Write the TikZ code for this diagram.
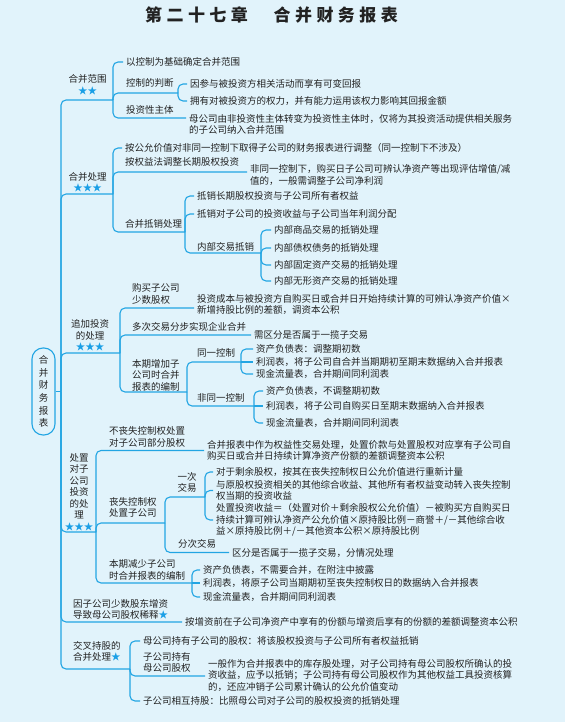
\documentclass[tikz,border=0pt]{standalone}
\usepackage{fontspec}
\setmainfont{Noto Sans CJK SC}
\newfontfamily\titlefont{Noto Sans CJK SC}[LetterSpace=26]
\usepackage{tikz}
\usepackage{xcolor}
\definecolor{bgblue}{HTML}{E1F3FB}
\definecolor{lineblue}{HTML}{22A5E3}
\definecolor{starblue}{HTML}{1A9FE6}
\definecolor{ink}{HTML}{222222}
\tikzstyle{branch} = [draw=lineblue, line width=1.1pt, rounded corners=5pt]
\tikzstyle{topic} = [align=center, inner sep=0pt]
\tikzstyle{sub} = [anchor=west, align=left, inner sep=0pt]
\tikzstyle{leaf} = [anchor=west, align=left, inner xsep=3pt, inner ysep=0pt]
\newcommand{\starmark}[1]{\textcolor{starblue}{#1}}

\begin{document}
\begin{tikzpicture}[x=1pt, y=-1pt, font=\fontsize{9.5}{11.5}\selectfont, text=ink]

\fill[bgblue] (0,0) rectangle (565,722);
\useasboundingbox (0,0) rectangle (565,722);

\node (title) at (271.5,15) {\titlefont\fontsize{17}{20}\selectfont\bfseries 第二十七章　合并财务报表};

\node (root) [draw=lineblue, line width=1.1pt, rounded corners=11pt, minimum width=23pt, minimum height=87pt, align=center, font=\fontsize{9.5}{12.6}\selectfont] at (43.5,391.5) {合\\并\\财\\务\\报\\表};
\coordinate (tr) at (61,391.5);

% level one
\node (scope)   [topic] at (87.5,85) {合并范围\\\starmark{★★}};
\node (process) [topic] at (87.5,182.5) {合并处理\\\starmark{★★★}};
\node (addinv)  [topic] at (90,335.5) {追加投资\\的处理\\\starmark{★★★}};
\node (dispose) [topic] at (79,492) {处置\\对子\\公司\\投资\\的处\\理\\\starmark{★★★}};
\node (dilute)  [sub] at (73,609.5) {因子公司少数股东增资\\导致母公司股权稀释\starmark{★}};
\node (cross)   [sub] at (73,651.5) {交叉持股的\\合并处理\starmark{★}};

\coordinate (scopej) at (113,100);
\coordinate (procj) at (113,194);
\coordinate (addj) at (120,353);
\coordinate (dispj) at (96,532);
\coordinate (crossj) at (130,669);

% scope
\node (basis)    [leaf] at (123,62) {以控制为基础确定合并范围};
\node (judge)    [sub] at (126,83) {控制的判断};
\coordinate (judgej) at (178,93);
\node (vreturn)  [leaf] at (187,84) {因参与被投资方相关活动而享有可变回报};
\node (power)    [leaf] at (187,101) {拥有对被投资方的权力，并有能力运用该权力影响其回报金额};
\node (ientity)  [sub] at (126,110) {投资性主体};
\node (ientnote) [leaf] at (186,124.5) {母公司由非投资性主体转变为投资性主体时，仅将为其投资活动提供相关服务\\的子公司纳入合并范围};

% process
\node (fairadj)    [leaf] at (122,148) {按公允价值对非同一控制下取得子公司的财务报表进行调整（同一控制下不涉及）};
\node (equity)     [sub] at (125,162) {按权益法调整长期股权投资};
\node (equitynote) [leaf] at (247,175) {非同一控制下，购买日子公司可辨认净资产等出现评估增值/减\\值的，一般需调整子公司净利润};
\node (elim)       [sub] at (125,224) {合并抵销处理};
\coordinate (elimj) at (185,232);
\node (elim1)      [leaf] at (194,196) {抵销长期股权投资与子公司所有者权益};
\node (elim2)      [leaf] at (194,214) {抵销对子公司的投资收益与子公司当年利润分配};
\node (intra)      [sub] at (197,247) {内部交易抵销};
\coordinate (intraj) at (261,253);
\node (intra1)     [leaf] at (271,230) {内部商品交易的抵销处理};
\node (intra2)     [leaf] at (271,248) {内部债权债务的抵销处理};
\node (intra3)     [leaf] at (271,265) {内部固定资产交易的抵销处理};
\node (intra4)     [leaf] at (271,281) {内部无形资产交易的抵销处理};

% additional investment
\node (minor)     [sub] at (132,294) {购买子公司\\少数股权};
\node (minornote) [leaf] at (194,304.5) {投资成本与被投资方自购买日或合并日开始持续计算的可辨认净资产价值×\\新增持股比例的差额，调资本公积};
\node (steps)     [sub] at (132,327) {多次交易分步实现企业合并};
\node (stepsnote) [leaf] at (251,335) {需区分是否属于一揽子交易};
\node (incr)      [sub] at (132,375) {本期增加子\\公司时合并\\报表的编制};
\coordinate (incrj) at (187,392);
\node (same)      [sub] at (197,353) {同一控制};
\coordinate (samej) at (241,362);
\node (same1)     [leaf] at (253,349) {资产负债表：调整期初数};
\node (same2)     [leaf] at (253,362) {利润表，将子公司自合并当期期初至期末数据纳入合并报表};
\node (same3)     [leaf] at (253,374) {现金流量表，合并期间同利润表};
\node (nsame)     [sub] at (197,398) {非同一控制};
\coordinate (nsamej) at (254,406);
\node (nsame1)    [leaf] at (263,391) {资产负债表，不调整期初数};
\node (nsame2)    [leaf] at (263,406) {利润表，将子公司自购买日至期末数据纳入合并报表};
\node (nsame3)    [leaf] at (263,423) {现金流量表，合并期间同利润表};

% disposal
\node (keep)      [sub] at (109,437) {不丧失控制权处置\\对子公司部分股权};
\node (keepnote)  [leaf] at (204,450.5) {合并报表中作为权益性交易处理，处置价款与处置股权对应享有子公司自\\购买日或合并日持续计算净资产份额的差额调整资本公积};
\node (lose)      [sub] at (109,507.5) {丧失控制权\\处置子公司};
\coordinate (losej) at (165,523);
\node (once)      [topic] at (187,482.5) {一次\\交易};
\coordinate (oncej) at (205,497);
\node (once1)     [leaf] at (213,472) {对于剩余股权，按其在丧失控制权日公允价值进行重新计量};
\node (once2)     [leaf] at (213,490.5) {与原股权投资相关的其他综合收益、其他所有者权益变动转入丧失控制\\权当期的投资收益};
\node (once3)     [leaf] at (213,520) {处置投资收益＝（处置对价＋剩余股权公允价值）－被购买方自购买日\\持续计算可辨认净资产公允价值×原持股比例－商誉＋/－其他综合收\\益×原持股比例＋/－其他资本公积×原持股比例};
\node (multi)     [sub] at (178,544) {分次交易};
\node (multinote) [leaf] at (229,552.5) {区分是否属于一揽子交易，分情况处理};
\node (decr)      [sub] at (109,570) {本期减少子公司\\时合并报表的编制};
\coordinate (decrj) at (192,583);
\node (decr1)     [leaf] at (200,570) {资产负债表，不需要合并，在附注中披露};
\node (decr2)     [leaf] at (200,583) {利润表，将原子公司当期期初至丧失控制权日的数据纳入合并报表};
\node (decr3)     [leaf] at (200,597) {现金流量表，合并期间同利润表};

% dilution and cross holding
\node (dilutenote) [leaf] at (182,622) {按增资前在子公司净资产中享有的份额与增资后享有的份额的差额调整资本公积};
\node (cross1)     [leaf] at (140,641) {母公司持有子公司的股权：将该股权投资与子公司所有者权益抵销};
\node (cross2)     [sub] at (143,662.5) {子公司持有\\母公司股权};
\node (cross2note) [leaf] at (205,675) {一般作为合并报表中的库存股处理，对子公司持有母公司股权所确认的投\\资收益，应予以抵销；子公司持有母公司股权作为其他权益工具投资核算\\的，还应冲销子公司累计确认的公允价值变动};
\node (cross3)     [leaf] at (140,701) {子公司相互持股：比照母公司对子公司的股权投资的抵销处理};

% trunk
\draw[branch] (root) -- (tr);
\draw[branch] (tr) |- (scopej);
\draw[branch] (tr) |- (procj);
\draw[branch] (tr) |- (addj);
\draw[branch] (tr) |- (dispj);
\draw[branch] (tr) |- (dilutenote.west);
\draw[branch] (tr) |- (crossj);

\draw[branch] (scopej) |- (basis.west);
\draw[branch] (scopej) |- (judgej);
\draw[branch] (judgej) |- (vreturn.west);
\draw[branch] (judgej) |- (power.west);
\draw[branch] (scopej) |- ([yshift=6.5pt]ientnote.west);

\draw[branch] (procj) |- (fairadj.west);
\draw[branch] (procj) |- ([yshift=3pt]equitynote.west);
\draw[branch] (procj) |- (elimj);
\draw[branch] (elimj) |- (elim1.west);
\draw[branch] (elimj) |- (elim2.west);
\draw[branch] (elimj) |- (intraj);
\draw[branch] (intraj) |- (intra1.west);
\draw[branch] (intraj) |- (intra2.west);
\draw[branch] (intraj) |- (intra3.west);
\draw[branch] (intraj) |- (intra4.west);

\draw[branch] (addj) |- ([yshift=-3.5pt]minornote.west);
\draw[branch] (addj) |- (stepsnote.west);
\draw[branch] (addj) |- (incrj);
\draw[branch] (incrj) |- (samej);
\draw[branch] (incrj) |- (nsamej);
\draw[branch] (samej) |- (same1.west);
\draw[branch] (samej) -- (same2.west);
\draw[branch] (samej) |- (same3.west);
\draw[branch] (nsamej) |- (nsame1.west);
\draw[branch] (nsamej) -- (nsame2.west);
\draw[branch] (nsamej) |- (nsame3.west);

\draw[branch] (dispj) |- (keepnote.west);
\draw[branch] (dispj) |- (losej);
\draw[branch] (dispj) |- (decrj);
\draw[branch] (losej) |- (oncej);
\draw[branch] (losej) |- (multinote.west);
\draw[branch] (oncej) |- (once1.west);
\draw[branch] (oncej) |- (once2.west);
\draw[branch] (oncej) |- (once3.west);
\draw[branch] (decrj) |- (decr1.west);
\draw[branch] (decrj) -- (decr2.west);
\draw[branch] (decrj) |- (decr3.west);

\draw[branch] (crossj) |- (cross1.west);
\draw[branch] (crossj) |- ([yshift=-1pt]cross2note.west);
\draw[branch] (crossj) |- (cross3.west);

\end{tikzpicture}
\end{document}
